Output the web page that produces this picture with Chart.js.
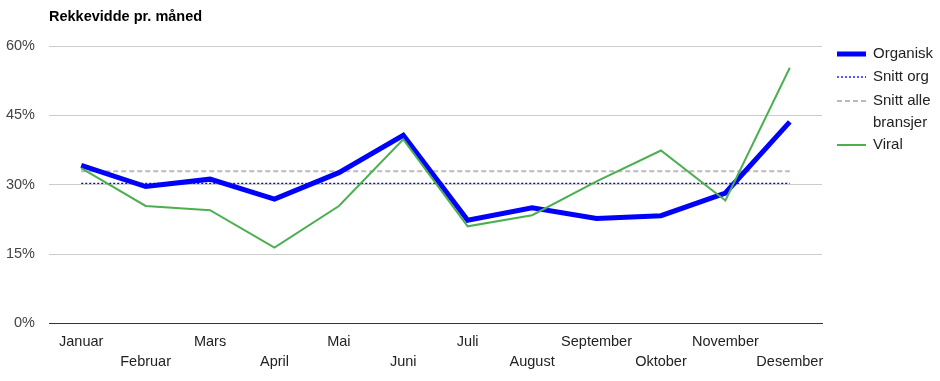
<!DOCTYPE html>
<html>
<head>
<meta charset="utf-8">
<script src="https://cdn.jsdelivr.net/npm/chart.js@4/dist/chart.umd.min.js"></script>
<style>
html,body{margin:0;padding:0;background:#fff;}
#wrap{width:940px;height:381px;position:relative;}
</style>
</head>
<body>
<div id="wrap"><canvas id="c" width="940" height="381"></canvas></div>
<script>
const title = 'Rekkevidde pr. måned';
const months = ['Januar','Februar','Mars','April','Mai','Juni','Juli','August','September','Oktober','November','Desember'];
const organisk = [34.2, 29.6, 31.2, 26.9, 32.6, 40.7, 22.3, 25.0, 22.7, 23.3, 28.2, 43.6];
const snittOrg = [30.3, 30.3, 30.3, 30.3, 30.3, 30.3, 30.3, 30.3, 30.3, 30.3, 30.3, 30.3];
const snittAlle = [32.9, 32.9, 32.9, 32.9, 32.9, 32.9, 32.9, 32.9, 32.9, 32.9, 32.9, 32.9];
const viral = [33.6, 25.4, 24.5, 16.4, 25.4, 39.8, 21.0, 23.4, 30.7, 37.4, 26.6, 55.3];
const yTicks = [0, 15, 30, 45, 60];

const FONT = 'Arial, "Liberation Sans", sans-serif';

const legendPlugin = {
  id: 'customLegend',
  afterDraw(chart) {
    const ctx = chart.ctx;
    const x0 = chart.chartArea.right + 15;
    const rows = [54, 77, 101, 145];
    const labels = [['Organisk'], ['Snitt org'], ['Snitt alle', 'bransjer'], ['Viral']];
    ctx.save();
    chart.data.datasets.forEach((ds, i) => {
      const y = rows[i];
      ctx.beginPath();
      ctx.strokeStyle = ds.borderColor;
      ctx.lineWidth = ds.borderWidth;
      ctx.setLineDash(ds.borderDash || []);
      ctx.moveTo(x0, y);
      ctx.lineTo(x0 + 29, y);
      ctx.stroke();
      ctx.setLineDash([]);
      ctx.fillStyle = '#222';
      ctx.font = '15px ' + FONT;
      ctx.textBaseline = 'middle';
      ctx.textAlign = 'left';
      labels[i].forEach((t, j) => ctx.fillText(t, x0 + 36, y + j * 22));
    });
    // title
    ctx.fillStyle = '#000';
    ctx.font = 'bold 14.5px ' + FONT;
    ctx.textBaseline = 'middle';
    ctx.fillText(title, chart.chartArea.left, 17);
    ctx.restore();
  }
};

new Chart(document.getElementById('c'), {
  type: 'line',
  data: {
    labels: months,
    datasets: [
      { label: 'Organisk', data: organisk, borderColor: '#0000ff', borderWidth: 5, pointRadius: 0, tension: 0, order: 1 },
      { label: 'Snitt org', data: snittOrg, borderColor: '#0000ff', borderWidth: 1.3, borderDash: [2, 2], pointRadius: 0, tension: 0, order: 2 },
      { label: 'Snitt alle bransjer', data: snittAlle, borderColor: '#bbbbbb', borderWidth: 2, borderDash: [5, 3], pointRadius: 0, tension: 0, order: 3 },
      { label: 'Viral', data: viral, borderColor: '#4caf50', borderWidth: 2, pointRadius: 0, tension: 0, order: 0 }
    ]
  },
  options: {
    responsive: false,
    animation: false,
    layout: { padding: { top: 46, right: 118, bottom: 1, left: 0 } },
    plugins: { legend: { display: false }, title: { display: false }, tooltip: { enabled: false } },
    scales: {
      x: {
        offset: true,
        grid: { display: false, drawTicks: false },
        border: { display: true, color: '#333333', width: 1 },
        ticks: {
          autoSkip: false, maxRotation: 0, minRotation: 0, padding: 8,
          color: '#222', font: { family: FONT, size: 14.5, lineHeight: 1.4 },
          callback: function(v, i) { const l = months[i]; return i % 2 === 0 ? [l, ''] : ['', l]; }
        }
      },
      y: {
        min: 0, max: 60,
        afterBuildTicks: (s) => { s.ticks = yTicks.map(v => ({ value: v })); },
        afterFit: (s) => { s.width = 49; },
        grid: { color: '#cccccc', drawTicks: false },
        border: { display: false },
        ticks: { padding: 14, color: '#444', font: { family: FONT, size: 14.5 }, callback: v => v + '%' }
      }
    }
  },
  plugins: [legendPlugin]
});
</script>
</body>
</html>
